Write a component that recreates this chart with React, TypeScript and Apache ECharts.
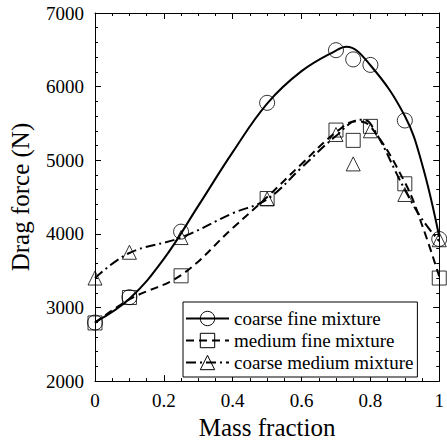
import React, { useEffect, useRef } from "react";
import * as echarts from "echarts";

// Measured points
const massFraction = [0, 0.1, 0.25, 0.5, 0.7, 0.75, 0.8, 0.9, 1];
const coarseFine = [2795, 3140, 4030, 5780, 6495, 6370, 6295, 5540, 3930];
const mediumFine = [2790, 3135, 3430, 4480, 5410, 5270, 5460, 4680, 3400];
const coarseMedium = [3400, 3750, 3950, 4475, 5350, 4950, 5400, 4535, 3920];

// Fitted curves
const fitXCoarseFine = [0, 0.1, 0.2, 0.3, 0.4, 0.5, 0.6, 0.7, 0.73, 0.8, 0.9, 0.95, 1];
const fitYCoarseFine = [2800, 3120, 3660, 4380, 5110, 5770, 6210, 6490, 6540, 6290, 5600, 4950, 3960];
const fitXMediumFine = [0, 0.1, 0.25, 0.4, 0.5, 0.6, 0.7, 0.76, 0.8, 0.9, 0.95, 1];
const fitYMediumFine = [2790, 3110, 3440, 4080, 4500, 4950, 5380, 5530, 5460, 4700, 4120, 3420];
const fitXCoarseMedium = [0, 0.1, 0.25, 0.4, 0.5, 0.6, 0.7, 0.77, 0.8, 0.9, 0.95, 1];
const fitYCoarseMedium = [3400, 3740, 3950, 4280, 4470, 4900, 5330, 5550, 5500, 4600, 4200, 3900];

const seriesNames = ["coarse fine mixture", "medium fine mixture", "coarse medium mixture"];
const xTicks = { min: 0, max: 1, interval: 0.2 };
const yTicks = { min: 2000, max: 7000, interval: 1000 };

const FONT = "'Liberation Serif', 'Times New Roman', serif";

const zip = (xs: number[], ys: number[]) => xs.map((x, i) => [x, ys[i]]);

export default function App() {
  const ref = useRef<HTMLDivElement>(null);
  useEffect(() => {
    if (!ref.current) return;
    const chart = echarts.init(ref.current, undefined, { renderer: "svg" });
    const markerStyle = { color: "transparent", borderColor: "#000", borderWidth: 1 };
    const axisCommon = {
      axisLine: { show: true, onZero: false, lineStyle: { color: "#000", width: 1 } },
      axisTick: { show: true, inside: true, length: 6, lineStyle: { color: "#000" } },
      minorTick: { show: true, length: 3, lineStyle: { color: "#000" } },
      splitLine: { show: false },
    };
    const labelStyle = {
      color: "#000",
      fontFamily: FONT,
      fontWeight: "normal",
      fontSize: 19,
      margin: 11,
      formatter: (v: number) => String(v),
    };
    const nameStyle = { color: "#000", fontFamily: FONT, fontWeight: "normal", fontSize: 25 };
    const lineSeries = (name: string, data: number[][], symbol: string, type: any) => ({
      name,
      type: "line",
      data,
      smooth: 0.4,
      showSymbol: false,
      symbol,
      symbolSize: 14,
      itemStyle: markerStyle,
      lineStyle: { color: "#000", width: 2, type },
      z: 2,
    });
    const scatterSeries = (name: string, ys: number[], symbol: string, size: number) => ({
      name,
      type: "scatter",
      data: zip(massFraction, ys),
      symbol,
      symbolSize: size,
      itemStyle: markerStyle,
      z: 3,
    });
    chart.setOption({
      animation: false,
      backgroundColor: "#fff",
      textStyle: { fontFamily: FONT, color: "#000" },
      grid: { left: 91, right: 4, top: 13, bottom: 60, containLabel: false },
      xAxis: [
        {
          type: "value",
          ...xTicks,
          position: "bottom",
          ...axisCommon,
          minorTick: { ...axisCommon.minorTick, splitNumber: 4 },
          axisLabel: { ...labelStyle, margin: 10 },
          name: "Mass fraction",
          nameLocation: "middle",
          nameGap: 29,
          nameTextStyle: nameStyle,
        },
        {
          type: "value",
          ...xTicks,
          position: "top",
          ...axisCommon,
          minorTick: { ...axisCommon.minorTick, splitNumber: 4 },
          axisLabel: { show: false },
        },
      ],
      yAxis: [
        {
          type: "value",
          ...yTicks,
          position: "left",
          ...axisCommon,
          minorTick: { ...axisCommon.minorTick, splitNumber: 5 },
          axisLabel: labelStyle,
          name: "Drag force (N)",
          nameLocation: "middle",
          nameGap: 62,
          nameTextStyle: nameStyle,
        },
        {
          type: "value",
          ...yTicks,
          position: "right",
          ...axisCommon,
          minorTick: { ...axisCommon.minorTick, splitNumber: 5 },
          axisLabel: { show: false },
        },
      ],
      legend: {
        data: seriesNames,
        orient: "vertical",
        left: 183,
        top: 302,
        padding: [7, 4, 5, 2],
        itemGap: 3,
        itemWidth: 43,
        itemHeight: 18,
        borderColor: "#000",
        borderWidth: 1,
        backgroundColor: "#fff",
        itemStyle: { color: "transparent", borderColor: "#000", borderWidth: 1 },
        textStyle: { fontFamily: FONT, fontSize: 19, color: "#000" },
        selectedMode: false,
      },
      series: [
        lineSeries(seriesNames[0], zip(fitXCoarseFine, fitYCoarseFine), "circle", "solid"),
        lineSeries(seriesNames[1], zip(fitXMediumFine, fitYMediumFine), "rect", [8, 5]),
        lineSeries(seriesNames[2], zip(fitXCoarseMedium, fitYCoarseMedium), "triangle", [10, 4, 2, 4]),
        scatterSeries(seriesNames[0], coarseFine, "circle", 15),
        scatterSeries(seriesNames[1], mediumFine, "rect", 14),
        scatterSeries(seriesNames[2], coarseMedium, "triangle", 14),
      ],
    });
    return () => chart.dispose();
  }, []);
  return (
    <div
      ref={ref}
      style={{ position: "fixed", left: 0, top: 0, width: 447, height: 445, background: "#fff" }}
    />
  );
}
